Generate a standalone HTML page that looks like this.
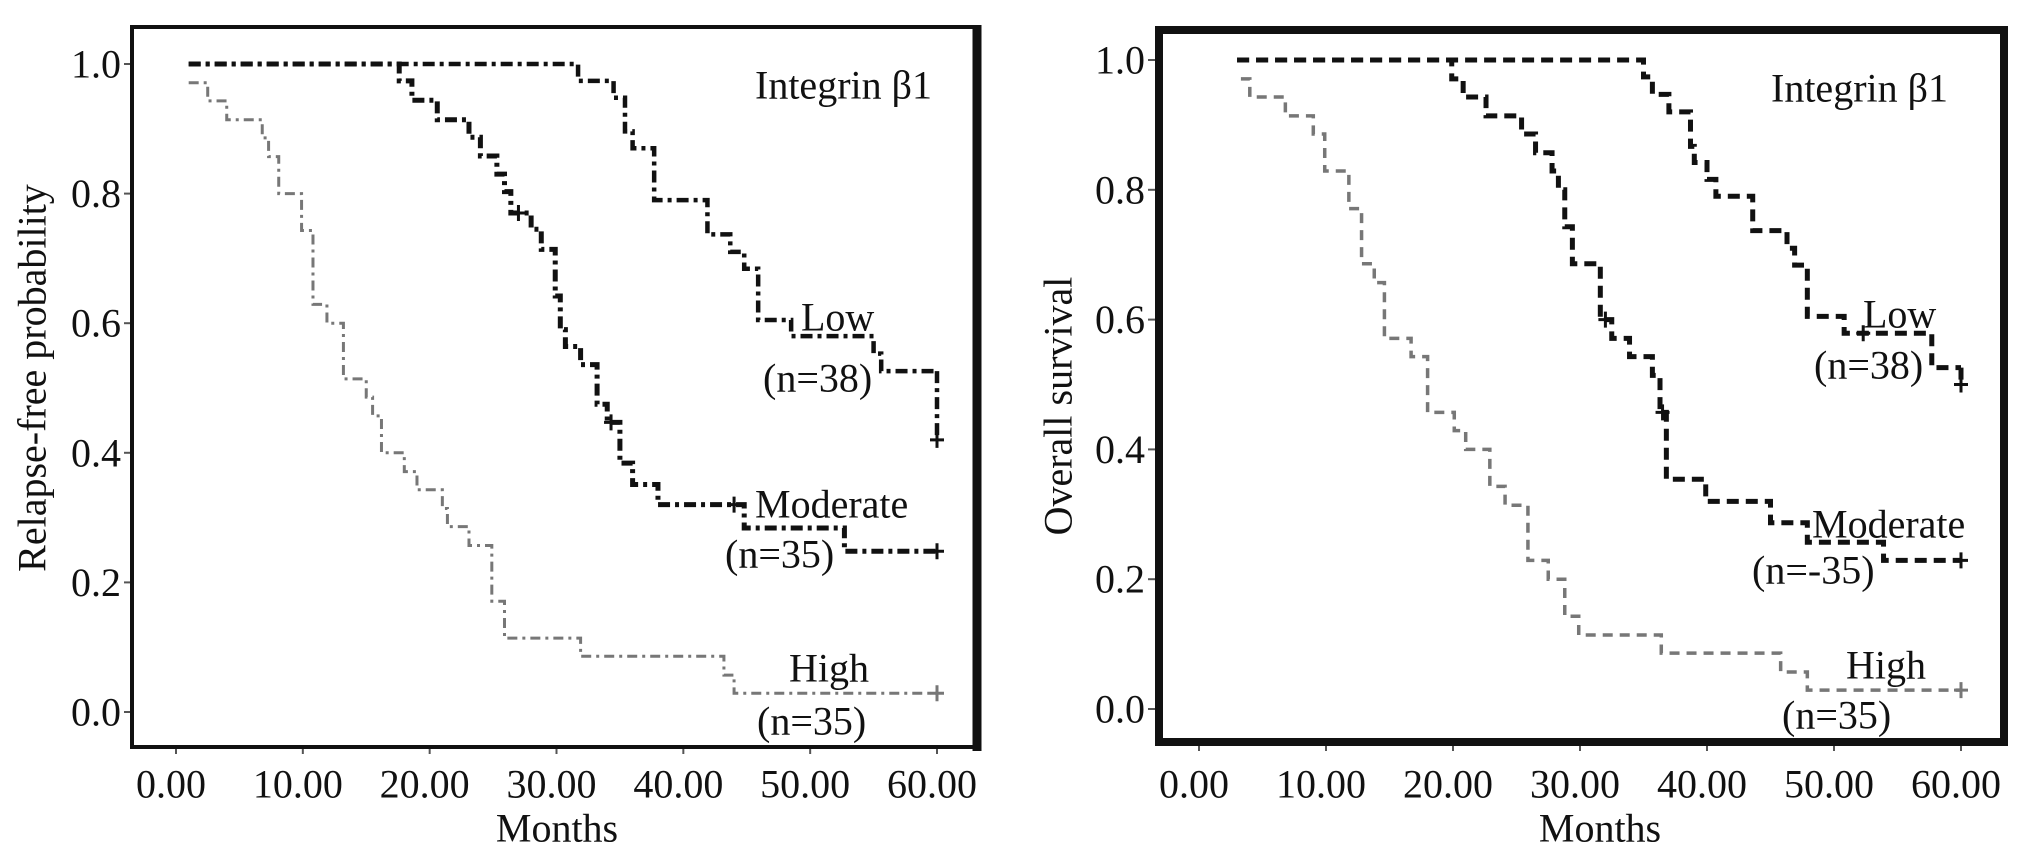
<!DOCTYPE html>
<html><head><meta charset="utf-8"><style>
html,body{margin:0;padding:0;background:#fff;}
svg{display:block;}
text{font-family:"Liberation Serif",serif;fill:#111;}
</style></head><body>
<svg width="2031" height="859" viewBox="0 0 2031 859" id="fig"></svg>
<script>
// ---- Panel A: relapse-free (step start times and survival values) ----
const lowA_t = [1,31.7,34.5,35.4,36,37.7,41.9,43.7,44.8,45.9,48.5,55,55.6];
const lowA_s = [1,0.974,0.948,0.896,0.87,0.79,0.737,0.71,0.684,0.605,0.58,0.553,0.526];
const lowA_end = 0.42;
const modA_t = [1,17.6,18.6,20.6,23.1,24,25.3,25.9,26.4,28,28.8,29.9,30.3,30.7,31.9,33.2,34,35,36,38,44.8,52.7];
const modA_s = [1,0.974,0.944,0.914,0.887,0.858,0.83,0.803,0.77,0.745,0.714,0.642,0.59,0.564,0.536,0.475,0.447,0.384,0.351,0.32,0.284,0.248];
const modA_cens = [[27,0.77],[34.3,0.447],[44,0.32],[60,0.248]];
const highA_t = [1,2.5,4,6.8,7.3,8.1,9.9,10.8,11.9,13.2,15,15.5,16.2,18,19,21,21.4,23.1,24.9,25.9,31.9,43.2,44];
const highA_s = [0.971,0.943,0.914,0.886,0.857,0.8,0.743,0.629,0.6,0.514,0.486,0.457,0.4,0.371,0.343,0.314,0.286,0.257,0.171,0.114,0.086,0.057,0.029];
// ---- Panel B: overall survival ----
const lowB_t = [3,35,35.7,37,38.7,39,40,40.7,43.6,46.3,46.9,47.9,50.8,57.7];
const lowB_s = [1,0.974,0.947,0.92,0.867,0.842,0.816,0.79,0.737,0.71,0.684,0.605,0.579,0.526];
const lowB_end = 0.5;
const modB_t = [3,19.9,20.8,22.6,25.4,26.5,27.8,28.3,28.8,29.4,31.6,32.5,33.9,35.7,36.3,36.8,39.9,45,47.9,53.9];
const modB_s = [1,0.971,0.943,0.914,0.886,0.857,0.829,0.8,0.743,0.686,0.6,0.571,0.543,0.514,0.457,0.354,0.32,0.287,0.257,0.229];
const modB_cens = [[32,0.6],[36.5,0.457],[60,0.229]];
const highB_t = [3.3,4,6.8,9,9.9,11.8,12.8,13.8,14.6,16.7,18,20.1,21,22.9,24.1,25.9,27.5,28.8,29.9,36.4,45.8,47.9];
const highB_s = [0.971,0.943,0.914,0.886,0.829,0.771,0.686,0.657,0.571,0.543,0.457,0.429,0.4,0.343,0.314,0.229,0.2,0.143,0.114,0.086,0.057,0.029];
const xTicks = ["0.00","10.00","20.00","30.00","40.00","50.00","60.00"];
const yTicks = ["0.0","0.2","0.4","0.6","0.8","1.0"];

const NS="http://www.w3.org/2000/svg";
const svg=document.getElementById('fig');
function mk(tag,attrs,parent){const e=document.createElementNS(NS,tag);for(const k in attrs)e.setAttribute(k,attrs[k]);(parent||svg).appendChild(e);return e;}
function txt(s,x,y,parent,anchor,size){const e=mk('text',{x:x,y:y,'font-size':size||40,'text-anchor':anchor||'start','dominant-baseline':'central'},parent);e.textContent=s;return e;}

function stepPath(ts,ss,sx,sy){
  let d='M'+sx(ts[0])+','+sy(ss[0]);
  for(let i=1;i<ts.length;i++){d+=' H'+sx(ts[i])+' V'+sy(ss[i]);}
  d+=' H'+sx(60);
  return d;
}
function cross(g,x,y,col,w){
  const c=mk('path',{d:'M'+(x-7)+','+y+' H'+(x+7)+' M'+x+','+(y-8)+' V'+(y+8),stroke:col,'stroke-width':w,fill:'none'},g);
  
  
}

function panel(cfg){
  const g=mk('g',{});
  
  
  const sx=t=>cfg.x0+(cfg.x60-cfg.x0)*t/60;
  const sy=v=>cfg.y0+(cfg.y1-cfg.y0)*v;
  yTicks.forEach((l,i)=>{const v=i*0.2;
    const tk=mk('line',{x1:cfg.fl-7,x2:cfg.fl,y1:sy(v),y2:sy(v),stroke:'#555','stroke-width':2},g);
    
    const t=txt(l,cfg.fl-10,sy(v),g,'end',40);
    });
  xTicks.forEach((l,i)=>{const t=i*10;
    const tk=mk('line',{x1:sx(t),x2:sx(t),y1:cfg.fb,y2:cfg.fb+9,stroke:'#555','stroke-width':2},g);
    
    const tl=txt(l,sx(t)-5,784,g,'middle',40);
    });
  cfg.series.forEach(s=>{
    const p=mk('path',{d:stepPath(s.t,s.s,sx,sy),stroke:s.col,'stroke-width':s.w,fill:'none','stroke-dasharray':s.dash},g);
    
    
    if(s.end!==undefined){
      const e=mk('path',{d:'M'+sx(60)+','+sy(s.s[s.s.length-1])+' V'+sy(s.end),stroke:s.col,'stroke-width':s.w,fill:'none','stroke-dasharray':s.dash},g);
      
      cross(g,sx(60),sy(s.end),s.col,3);
    }
    (s.cens||[]).forEach(c=>cross(g,sx(c[0]),sy(c[1]),s.col,3));
  });
  cfg.frame(g);
  cfg.labels.forEach(l=>{const t=txt(l[0],l[1],l[2],g,'start',40);
    });
  const xt=txt('Months',cfg.mx,828,g,'middle',40);
  
  const yt=txt(cfg.ytitle,0,0,g,'middle',40);
  yt.setAttribute('transform','translate('+cfg.ytx+','+cfg.yty+') rotate(-90)');
  
}

panel({name:'relapse-free-panel',x0:176,x60:937,y0:712,y1:64,fl:131,fb:745,mx:557,ytx:32,yty:378,
  ytitle:'Relapse-free probability',
  series:[
    {name:'low-curve',t:lowA_t,s:lowA_s,end:lowA_end,col:'#111',w:4.5,dash:'12 5 4 5'},
    {name:'moderate-curve',t:modA_t,s:modA_s,cens:modA_cens,col:'#111',w:5,dash:'12 5 4 5'},
    {name:'high-curve',t:highA_t,s:highA_s,cens:[[60,0.029]],col:'#777',w:3,dash:'10 5 3 5'}],
  frame:g=>{const f=mk('path',{d:'M132,27 H977 V747 H132 Z',fill:'none',stroke:'#111','stroke-width':4},g);
    
    mk('line',{x1:977,y1:25,x2:977,y2:751,stroke:'#111','stroke-width':9},g);},
  labels:[['Integrin β1',755,85,'panel-title'],['Low',801,317,'low-label'],['(n=38)',763,378,'low-n-label'],
    ['Moderate',755,504,'moderate-label'],['(n=35)',725,554,'moderate-n-label'],['High',789,668,'high-label'],['(n=35)',757,721,'high-n-label']]
});

panel({name:'overall-survival-panel',x0:1199,x60:1961,y0:709,y1:60,fl:1155,fb:742,mx:1600,ytx:1058,yty:406,
  ytitle:'Overall  survival',
  series:[
    {name:'low-curve',t:lowB_t,s:lowB_s,end:lowB_end,col:'#111',w:5,dash:'12 7',cens:[[52.3,0.579]]},
    {name:'moderate-curve',t:modB_t,s:modB_s,cens:modB_cens,col:'#111',w:5,dash:'12 7'},
    {name:'high-curve',t:highB_t,s:highB_s,cens:[[60,0.029]],col:'#777',w:3.5,dash:'10 7'}],
  frame:g=>{const f=mk('rect',{x:1159,y:30,width:845,height:712,fill:'none',stroke:'#111','stroke-width':8},g);
    },
  labels:[['Integrin β1',1771,88,'panel-title'],['Low',1863,314,'low-label'],['(n=38)',1814,365,'low-n-label'],
    ['Moderate',1812,524,'moderate-label'],['(n=-35)',1752,570,'moderate-n-label'],['High',1846,665,'high-label'],['(n=35)',1782,715,'high-n-label']]
});
</script>
</body></html>
